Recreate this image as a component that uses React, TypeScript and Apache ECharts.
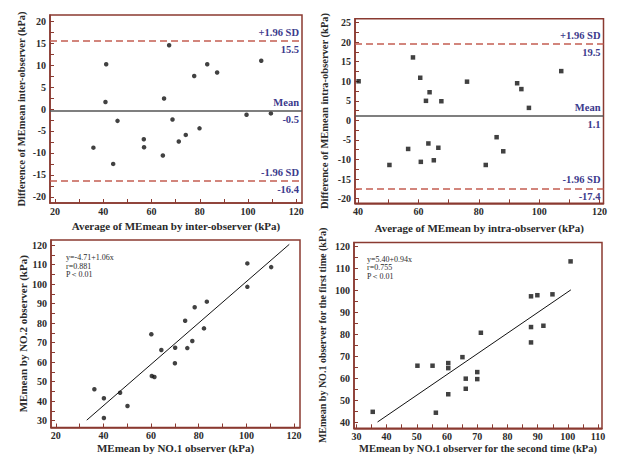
import React, { useEffect, useRef } from "react";
import * as echarts from "echarts";

// ---- Panel A: inter-observer Bland-Altman ----
const interAvg = [35.9, 41.2, 40.9, 45.9, 44.1, 56.8, 56.9, 64.7, 65.2, 67.3, 68.7, 71.3, 74.2, 79.9, 77.7, 83.1, 87.2, 99.4, 105.5, 109.5];
const interDiff = [-8.8, 10.2, 1.6, -2.7, -12.5, -6.9, -8.7, -10.6, 2.4, 14.5, -2.4, -7.4, -5.9, -4.4, 7.5, 10.2, 8.3, -1.3, 11.0, -1.0];
const interLimits = [15.5, -0.5, -16.4]; // +1.96SD, mean, -1.96SD

// ---- Panel B: intra-observer Bland-Altman ----
const intraAvg = [40.2, 50.4, 56.6, 58.2, 60.6, 60.8, 62.5, 63.3, 63.7, 65.1, 66.6, 67.6, 76.1, 82.3, 85.9, 88.1, 92.7, 94.1, 96.6, 107.3];
const intraDiff = [10.0, -11.4, -7.3, 16.1, 10.9, -10.6, 5.0, -5.9, 7.2, -10.2, -7.0, 4.9, 9.9, -11.4, -4.3, -7.9, 9.5, 8.0, 3.2, 12.6];
const intraLimits = [19.5, 1.1, -17.4];

// ---- Panel C: NO.1 vs NO.2 observer ----
const obs1 = [36.2, 40.2, 40.2, 47.0, 50.1, 60.1, 60.3, 61.4, 64.3, 70.0, 70.1, 74.3, 75.2, 77.3, 78.3, 82.2, 83.4, 100.4, 100.4, 110.4];
const obs2 = [46.1, 41.5, 31.4, 44.3, 37.5, 74.3, 52.9, 52.4, 66.2, 59.4, 67.4, 81.2, 67.2, 70.8, 88.1, 77.3, 91.0, 110.6, 98.6, 108.7];
const fitC = [-4.71, 1.06]; // intercept, slope
const fitCRange = [33, 118];
const noteC = ["y=-4.71+1.06x", "r=0.881", "P\uFF1C0.01"];

// ---- Panel D: NO.1 first vs second time ----
const secondTime = [35.4, 50.2, 55.2, 56.3, 60.4, 60.4, 60.4, 65.1, 66.2, 66.2, 70.0, 70.0, 71.2, 87.8, 89.9, 94.9, 87.8, 91.9, 87.8, 100.9];
const firstTime = [44.8, 65.8, 65.8, 44.4, 67.0, 64.7, 52.8, 69.7, 59.9, 55.3, 62.9, 59.7, 80.8, 97.4, 97.9, 98.3, 83.4, 84.0, 76.4, 113.3];
const fitD = [5.4, 0.94];
const fitDRange = [37, 101];
const noteD = ["y=5.40+0.94x", "r=0.755", "P\uFF1C0.01"];

// ---- tick labels ----
const xLabelsAC = [20, 40, 60, 80, 100, 120];
const xTicksAC = [20, 30, 40, 50, 60, 70, 80, 90, 100, 110, 120];
const yLabelsA = [-20, -15, -10, -5, 0, 5, 10, 15, 20];
const yTicksA = [-20, -17.5, -15, -12.5, -10, -7.5, -5, -2.5, 0, 2.5, 5, 7.5, 10, 12.5, 15, 17.5, 20];
const xLabelsB = [40, 60, 80, 100, 120];
const xTicksB = [40, 50, 60, 70, 80, 90, 100, 110, 120];
const yLabelsB = [-20, -15, -10, -5, 0, 5, 10, 15, 20, 25];
const yTicksB = [-20, -17.5, -15, -12.5, -10, -7.5, -5, -2.5, 0, 2.5, 5, 7.5, 10, 12.5, 15, 17.5, 20, 22.5, 25];
const yLabelsC = [30, 40, 50, 60, 70, 80, 90, 100, 110, 120];
const yTicksC = [30, 35, 40, 45, 50, 55, 60, 65, 70, 75, 80, 85, 90, 95, 100, 105, 110, 115, 120];
const xLabelsD = [30, 40, 50, 60, 70, 80, 90, 100, 110];
const xTicksD = [30, 35, 40, 45, 50, 55, 60, 65, 70, 75, 80, 85, 90, 95, 100, 105, 110];
const yLabelsD = [40, 50, 60, 70, 80, 90, 100, 110, 120];
const yTicksD = [40, 45, 50, 55, 60, 65, 70, 75, 80, 85, 90, 95, 100, 105, 110, 115, 120];

const BORDER = "#8a3a31";
const DASH = "#c45d52";
const NOTE = "#3b3a8c";
const TEXT = "#2a2a2a";
const FONT = '"Liberation Serif", "Times New Roman", serif';

const zip = (a: number[], b: number[]) => a.map((v, i) => [v, b[i]]);

function makeAxis(
  gridIndex: number, min: number, max: number, labels: number[], ticks: number[],
  name: string, nameGap: number, nameSize: number, isY: boolean
) {
  return {
    type: "value",
    gridIndex,
    min,
    max,
    name,
    nameLocation: "middle",
    nameGap,
    nameRotate: isY ? 90 : 0,
    nameTextStyle: { fontFamily: FONT, fontWeight: "bold", fontSize: nameSize, color: TEXT },
    axisLine: { show: true, onZero: false, lineStyle: { color: BORDER, width: 1.5 } },
    axisTick: { show: true, inside: true, length: 4, customValues: ticks, lineStyle: { color: BORDER, width: 1 } },
    axisLabel: {
      show: true, customValues: labels, margin: isY ? 4 : 3,
      fontFamily: FONT, fontWeight: "bold", fontSize: 10, color: TEXT,
    },
    splitLine: { show: false },
    minorTick: { show: false },
  };
}

function limitLines(limits: number[]) {
  const [up, mean, low] = limits;
  const lab = (text: string, pos: string) => ({
    show: true, formatter: text, position: pos, distance: 3,
    color: NOTE, fontFamily: FONT, fontWeight: "bold", fontSize: 10.5,
  });
  const dashed = { color: DASH, type: [7, 4], width: 1.5 };
  const hidden = { color: "rgba(0,0,0,0)", width: 0 };
  return {
    silent: true,
    symbol: ["none", "none"],
    animation: false,
    data: [
      { yAxis: up, lineStyle: dashed, label: lab("+1.96 SD", "insideEndTop") },
      { yAxis: up, lineStyle: hidden, label: lab(String(up), "insideEndBottom") },
      { yAxis: mean, lineStyle: { color: "#555", type: "solid", width: 1.5 }, label: lab("Mean", "insideEndTop") },
      { yAxis: mean, lineStyle: hidden, label: lab(String(mean), "insideEndBottom") },
      { yAxis: low, lineStyle: dashed, label: lab("-1.96 SD", "insideEndTop") },
      { yAxis: low, lineStyle: hidden, label: lab(String(low), "insideEndBottom") },
    ],
  };
}

const fitLine = (fit: number[], range: number[]) =>
  range.map((x) => [x, fit[0] + fit[1] * x]);

export default function App() {
  const ref = useRef<HTMLDivElement>(null);
  useEffect(() => {
    document.body.style.margin = "0";
    const chart = echarts.init(ref.current!, null, { renderer: "svg" });
    const gridCommon = { show: true, borderColor: BORDER, borderWidth: 1.5, backgroundColor: "#fff", containLabel: false };
    chart.setOption({
      animation: false,
      backgroundColor: "#fff",
      grid: [
        { ...gridCommon, left: 50, top: 15, width: 252, height: 188 },
        { ...gridCommon, left: 355, top: 18.7, width: 248.5, height: 184.6 },
        { ...gridCommon, left: 51, top: 240, width: 249, height: 187.5 },
        { ...gridCommon, left: 354, top: 242.5, width: 248, height: 185.8 },
      ],
      xAxis: [
        makeAxis(0, 17.9, 122.4, xLabelsAC, xTicksAC, "Average of MEmean by inter-observer (kPa)", 17, 11, false),
        makeAxis(1, 39, 121.3, xLabelsB, xTicksB, "Average of MEmean by intra-observer (kPa)", 19, 11, false),
        makeAxis(2, 18, 122.5, xLabelsAC, xTicksAC, "MEmean by NO.1 observer (kPa)", 15, 11, false),
        makeAxis(3, 29.2, 111.3, xLabelsD, xTicksD, "MEmean by NO.1 observer for the second time (kPa)", 15, 10.5, false),
      ],
      yAxis: [
        makeAxis(0, -21.4, 21.4, yLabelsA, yTicksA, "Difference of MEmean inter-observer (kPa)", 23.5, 10.5, true),
        makeAxis(1, -21.2, 26, yLabelsB, yTicksB, "Difference of MEmean intra-observer (kPa)", 25, 10.5, true),
        makeAxis(2, 26.5, 122.6, yLabelsC, yTicksC, "MEmean by NO.2 observer (kPa)", 23, 11, true),
        makeAxis(3, 37.3, 121.9, yLabelsD, yTicksD, "MEmean by NO.1 observer for the first time (kPa)", 27, 10, true),
      ],
      series: [
        {
          type: "scatter", xAxisIndex: 0, yAxisIndex: 0, data: zip(interAvg, interDiff),
          symbol: "circle", symbolSize: 4.5, itemStyle: { color: "#111" },
          markLine: limitLines(interLimits),
        },
        {
          type: "scatter", xAxisIndex: 1, yAxisIndex: 1, data: zip(intraAvg, intraDiff),
          symbol: "rect", symbolSize: 4.5, itemStyle: { color: "#111" },
          markLine: limitLines(intraLimits),
        },
        {
          type: "line", xAxisIndex: 2, yAxisIndex: 2, data: fitLine(fitC, fitCRange),
          symbol: "none", lineStyle: { color: "#111", width: 1 }, silent: true,
        },
        {
          type: "scatter", xAxisIndex: 2, yAxisIndex: 2, data: zip(obs1, obs2),
          symbol: "circle", symbolSize: 4.5, itemStyle: { color: "#111" },
        },
        {
          type: "line", xAxisIndex: 3, yAxisIndex: 3, data: fitLine(fitD, fitDRange),
          symbol: "none", lineStyle: { color: "#111", width: 1 }, silent: true,
        },
        {
          type: "scatter", xAxisIndex: 3, yAxisIndex: 3, data: zip(secondTime, firstTime),
          symbol: "rect", symbolSize: 4.5, itemStyle: { color: "#111" },
        },
      ],
      graphic: [
        {
          type: "text", x: 66, y: 253.5, z: 10,
          style: { text: noteC.join("\n"), fontFamily: FONT, fontSize: 8, lineHeight: 8.4, fill: TEXT },
        },
        {
          type: "text", x: 367, y: 255, z: 10,
          style: { text: noteD.join("\n"), fontFamily: FONT, fontSize: 8, lineHeight: 8.4, fill: TEXT },
        },
      ],
    });
    return () => chart.dispose();
  }, []);
  return <div ref={ref} style={{ width: 618, height: 457 }} />;
}
